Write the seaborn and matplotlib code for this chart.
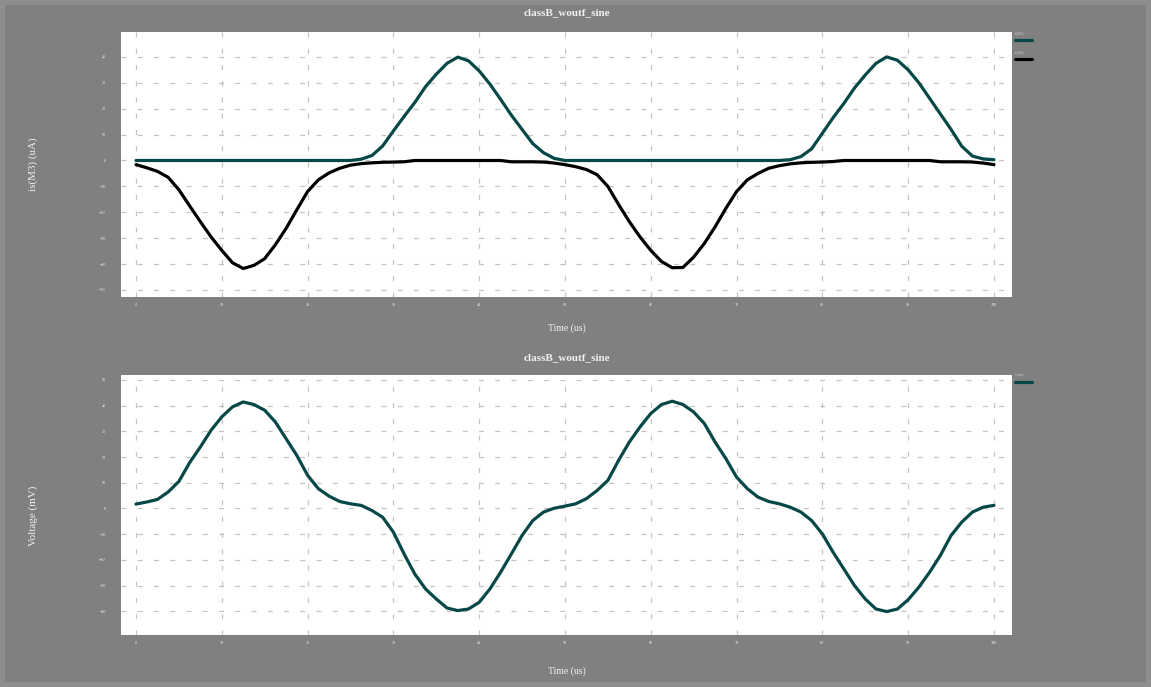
import numpy as np
import pandas as pd
import matplotlib
matplotlib.use("Agg")
import matplotlib.pyplot as plt
import seaborn as sns
from matplotlib.ticker import MultipleLocator
from matplotlib.lines import Line2D

# ---------------- data ----------------
time_us = [i * 1.25 for i in range(81)]

is_m3 = [0, 0, 0, 0, 0, 0, 0, 0, 0, 0,
         0, 0, 0, 0, 0, 0, 0, 0, 0, 0,
         0, 0.5, 1.9, 5.6, 11.4, 17.0, 22.4, 28.5, 33.3, 37.5,
         39.9, 38.5, 34.6, 29.5, 23.6, 17.5, 12.0, 6.5, 3.0, 0.8,
         0, 0, 0, 0, 0, 0, 0, 0, 0, 0,
         0, 0, 0, 0, 0, 0, 0, 0, 0, 0,
         0, 0.3, 1.5, 4.5, 10.5, 16.5, 22.0, 28.0, 33.0, 37.5,
         40.0, 38.7, 35.0, 30.0, 24.0, 18.0, 12.0, 5.5, 1.7, 0.6,
         0.3]

is_m4 = [-1.6, -2.8, -4.2, -6.5, -11.3, -17.5, -23.6, -29.5, -34.7, -39.5,
         -41.7, -40.5, -37.9, -32.5, -26.2, -19.0, -12.0, -7.5, -4.8, -3.0,
         -1.8, -1.2, -0.9, -0.7, -0.6, -0.5, 0, 0, 0, 0,
         0, 0, 0, 0, 0, -0.5, -0.5, -0.5, -0.6, -1.0,
         -1.6, -2.4, -3.5, -5.5, -10.0, -17.0, -23.6, -29.5, -34.7, -39.0,
         -41.4, -41.3, -37.3, -32.0, -25.6, -18.5, -12.0, -7.5, -5.0, -3.0,
         -2.0, -1.3, -0.9, -0.7, -0.6, -0.4, 0, 0, 0, 0,
         0, 0, 0, 0, 0, -0.5, -0.5, -0.5, -0.6, -1.0,
         -1.6]

v_out = [1.7, 2.5, 3.5, 6.4, 10.5, 17.8, 23.9, 30.4, 35.6, 39.5,
         41.4, 40.4, 38.2, 33.6, 27.1, 20.6, 12.9, 7.7, 4.8, 2.7,
         1.8, 1.2, -0.8, -3.4, -9.2, -17.7, -25.5, -31.3, -35.2, -38.7,
         -39.7, -39.1, -36.5, -31.3, -24.8, -17.7, -10.5, -4.7, -1.4, 0.1,
         0.9, 1.8, 3.8, 7.0, 10.9, 18.7, 25.8, 31.7, 36.9, 40.4,
         41.7, 40.4, 37.5, 33.0, 25.8, 19.4, 12.2, 7.7, 4.4, 2.7,
         1.8, 0.5, -1.4, -4.7, -9.9, -17.0, -23.5, -30.0, -35.2, -39.1,
         -40.1, -39.1, -35.5, -30.6, -24.8, -18.3, -10.5, -5.3, -1.4, 0.5,
         1.2]

top_labels = ["is(M3)", "is(M4)"]
bottom_labels = ["v(out)"]
title_text = "classB_woutf_sine"
x_label = "Time (us)"
y_label_top = "is(M3) (uA)"
y_label_bottom = "Voltage (mV)"

# ---------------- styling ----------------
sns.set_style("white")
plt.rcParams["font.family"] = ["Liberation Serif", "DejaVu Serif"]

GREEN = "#064848"
BLACK = "#000000"
BG = "#808080"
TXT = "#f0f0f0"

fig = plt.figure(figsize=(11.51, 6.87), dpi=100)
fig.patch.set_facecolor(BG)
fig.patch.set_edgecolor("#8e8e8e")
fig.patch.set_linewidth(7)

ax1 = fig.add_axes([0.1051, 0.5677, 0.7741, 0.3857])
ax2 = fig.add_axes([0.1051, 0.0757, 0.7741, 0.3785])

df_top = pd.DataFrame({
    "t": time_us * 2,
    "val": is_m3 + is_m4,
    "series": [top_labels[0]] * len(time_us) + [top_labels[1]] * len(time_us),
})
df_bot = pd.DataFrame({"t": time_us, "val": v_out, "series": bottom_labels[0]})

sns.lineplot(data=df_top, x="t", y="val", hue="series",
             palette={top_labels[0]: GREEN, top_labels[1]: BLACK},
             linewidth=2.3, ax=ax1, legend=False, sort=False)
sns.lineplot(data=df_bot, x="t", y="val", hue="series",
             palette={bottom_labels[0]: GREEN},
             linewidth=2.3, ax=ax2, legend=False, sort=False)

def style_axes(ax, ylim, title, ylab, xlab_y, ylab_y):
    ax.set_facecolor("white")
    ax.set_xlim(-1.75, 102.1)
    ax.set_ylim(*ylim)
    for s in ax.spines.values():
        s.set_visible(False)
    ax.xaxis.set_major_locator(MultipleLocator(10))
    ax.xaxis.set_minor_locator(MultipleLocator(2))
    ax.yaxis.set_major_locator(MultipleLocator(10))
    ax.yaxis.set_minor_locator(MultipleLocator(2.5))
    ax.grid(True, which="major", color="#c4c4c4", linestyle=(0, (4, 9)), linewidth=0.9)
    ax.tick_params(axis="y", which="major", direction="out", length=9, width=1.2,
                   color="white", labelsize=3, labelcolor=TXT, pad=2)
    ax.tick_params(axis="y", which="minor", direction="out", length=7, width=1.2,
                   color="white")
    ax.tick_params(axis="x", which="major", direction="in", length=4, width=0.8,
                   color="#bbbbbb", labelsize=3, labelcolor=TXT, pad=4)
    ax.tick_params(axis="x", which="minor", direction="in", length=2.5, width=0.8,
                   color="#bbbbbb")
    ax.set_xlabel(x_label, color=TXT, fontsize=7)
    ax.set_ylabel(ylab, color=TXT, fontsize=8)
    ax.xaxis.set_label_coords(0.5, xlab_y)
    ax.yaxis.set_label_coords(-0.093, ylab_y)
    ax.text(0.5006, title[1], title[0], transform=ax.transAxes, ha="center",
            va="center", fontsize=8, fontweight="bold", color=TXT)

style_axes(ax1, (-52.7, 49.6), (title_text, 1.075), y_label_top, -0.10, 0.5)
style_axes(ax2, (-49.2, 51.9), (title_text, 1.065), y_label_bottom, -0.12, 0.46)

# legend-like keys to the right of each panel (text above a short line)
def side_keys(ax, labels, colors, ys):
    for lab, col, y in zip(labels, colors, ys):
        ax.add_line(Line2D([1.003, 1.022], [y, y], transform=ax.transAxes,
                           color=col, linewidth=2.3, clip_on=False))
        ax.text(1.003, y + 0.018, lab, transform=ax.transAxes, fontsize=2.5,
                color="#d0d0d0", ha="left", va="bottom")

side_keys(ax1, top_labels, [GREEN, BLACK], [0.970, 0.898])
side_keys(ax2, bottom_labels, [GREEN], [0.973])

fig.savefig("out.png", dpi=100, facecolor=fig.get_facecolor(),
            edgecolor=fig.get_edgecolor())
